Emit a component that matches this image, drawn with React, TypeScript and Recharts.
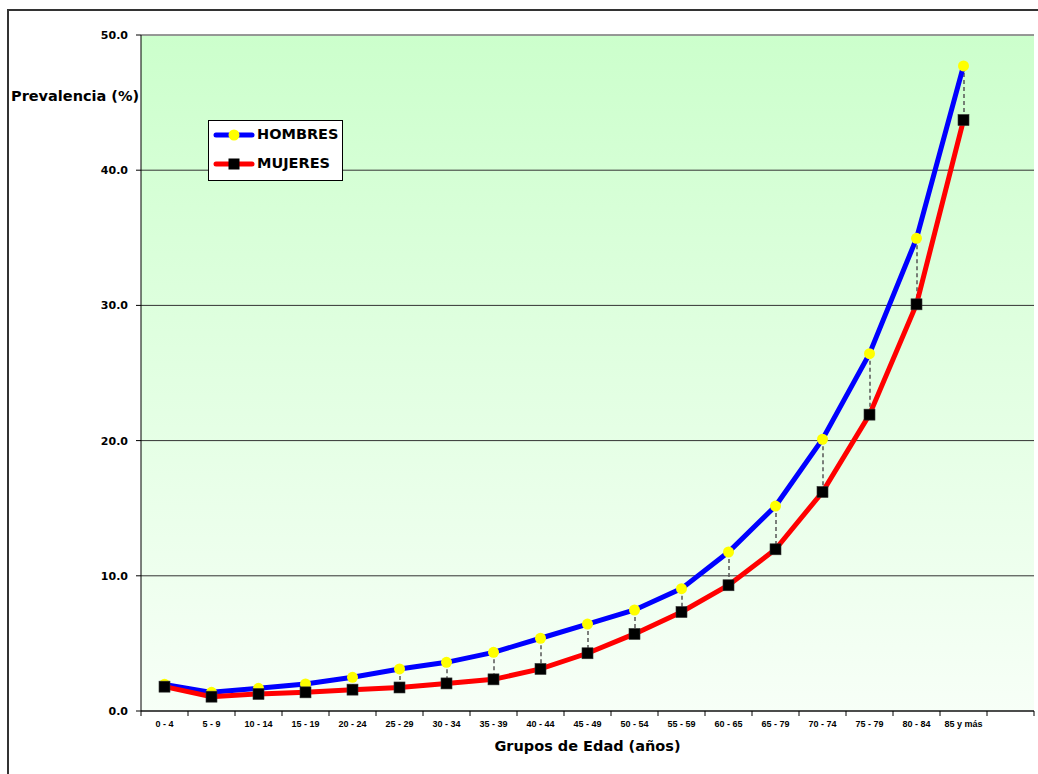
import React from 'react';
import { ComposedChart, Line, Bar, XAxis, YAxis, CartesianGrid, ReferenceLine, Label } from 'recharts';

const categories = ['0 - 4', '5 - 9', '10 - 14', '15 - 19', '20 - 24', '25 - 29', '30 - 34', '35 - 39', '40 - 44', '45 - 49', '50 - 54', '55 - 59', '60 - 65', '65 - 79', '70 - 74', '75 - 79', '80 - 84', '85 y más', ''];
const hombres: (number | null)[] = [1.97, 1.38, 1.68, 2.0, 2.49, 3.11, 3.6, 4.34, 5.38, 6.43, 7.47, 9.05, 11.76, 15.16, 20.1, 26.43, 34.96, 47.71, null];
const mujeres: (number | null)[] = [1.8, 1.06, 1.26, 1.38, 1.58, 1.74, 2.04, 2.34, 3.11, 4.27, 5.7, 7.32, 9.3, 11.96, 16.2, 21.92, 30.08, 43.71, null];
const yTicks = [0, 10, 20, 30, 40, 50];
const seriesNames = ['HOMBRES', 'MUJERES'];
const yTitle = 'Prevalencia (%)';
const xTitle = 'Grupos de Edad (años)';

const data = categories.map((c, i) => ({
  name: c,
  hombres: hombres[i],
  mujeres: mujeres[i],
  gap: hombres[i] != null && mujeres[i] != null ? [mujeres[i], hombres[i]] : null,
}));

const FONT = '"DejaVu Sans", Verdana, sans-serif';
const TICKFONT = '"Liberation Sans", Arial, sans-serif';

const DropLine = (props: any) => {
  const { x, y, width, height } = props;
  if (x == null || y == null || height == null || isNaN(height)) return <g />;
  const cx = x + width / 2;
  return <line x1={cx} x2={cx} y1={y} y2={y + height} stroke="#555" strokeWidth={1.5} strokeDasharray="4 3" />;
};

const SquareDot = (props: any) => {
  const { cx, cy, index } = props;
  if (cx == null || cy == null || isNaN(cy)) return <g key={'s' + index} />;
  return <rect key={'s' + index} x={cx - 5.5} y={cy - 5.5} width={11} height={11} fill="#000" stroke="#333" strokeWidth={0.6} />;
};

const XTick = (props: any) => {
  const { x, y, payload, index } = props;
  const off = payload && payload.offset ? payload.offset : 0;
  const last = index === categories.length - 1;
  return (
    <g>
      <line x1={x - off} x2={x - off} y1={y} y2={y + 5} stroke="#000" strokeWidth={1} />
      {last && <line x1={x + off} x2={x + off} y1={y} y2={y + 5} stroke="#000" strokeWidth={1} />}
      <text x={x} y={y + 16} textAnchor="middle" fontFamily={TICKFONT} fontSize={9} fontWeight="bold" fill="#000">
        {payload.value}
      </text>
    </g>
  );
};

export default function App() {
  return (
    <div style={{ position: 'absolute', left: 0, top: 0, width: 1038, height: 774, overflow: 'hidden', background: '#fff' }}>
      <div style={{ position: 'absolute', left: 7, top: 9, width: 1031, height: 765, borderTop: '2px solid #333', borderLeft: '2px solid #333', boxSizing: 'border-box' }} />
      <div style={{ position: 'absolute', left: 0, top: 0 }}>
        <ComposedChart width={1038} height={774} data={data} margin={{ top: 35, right: 4, left: 0, bottom: 33 }}>
          <defs>
            <linearGradient id="bgGrad" x1="0" y1="0" x2="0" y2="1">
              <stop offset="0%" stopColor="#CCFFCC" />
              <stop offset="100%" stopColor="#F7FFF7" />
            </linearGradient>
          </defs>
          <CartesianGrid vertical={false} stroke="#333" fill="url(#bgGrad)" fillOpacity={1} />
          <XAxis
            dataKey="name"
            interval={0}
            height={30}
            tickSize={0}
            tickMargin={0}
            tickLine={false}
            axisLine={{ stroke: '#000', strokeWidth: 1 }}
            tick={<XTick />}
          >
            <Label value={xTitle} position="bottom" offset={0} style={{ fontFamily: FONT, fontSize: 14.5, fontWeight: 'bold', fill: '#000' }} />
          </XAxis>
          <YAxis
            type="number"
            domain={[0, 50]}
            ticks={yTicks}
            width={141}
            tickSize={5}
            tickMargin={8}
            tickFormatter={(v: number) => v.toFixed(1)}
            tick={{ fontFamily: FONT, fontSize: 11, fontWeight: 'bold', fill: '#000' }}
            tickLine={{ stroke: '#000' }}
            axisLine={{ stroke: '#000', strokeWidth: 1 }}
          />
          <YAxis yAxisId="r" orientation="right" width={0} domain={[0, 50]} tick={false} tickLine={false} axisLine={{ stroke: '#999', strokeWidth: 1.5 }} />
          <ReferenceLine y={50} stroke="#999" strokeWidth={1.5} />
          <Bar dataKey="gap" barSize={4} shape={<DropLine />} isAnimationActive={false} />
          <Line
            dataKey="hombres"
            name={seriesNames[0]}
            stroke="#0000FF"
            strokeWidth={5}
            dot={{ r: 5.5, fill: '#FFFF00', stroke: 'none', strokeWidth: 0 }}
            activeDot={false}
            isAnimationActive={false}
          />
          <Line
            dataKey="mujeres"
            name={seriesNames[1]}
            stroke="#FF0000"
            strokeWidth={5}
            dot={<SquareDot />}
            activeDot={false}
            isAnimationActive={false}
          />
        </ComposedChart>
      </div>
      <div style={{ position: 'absolute', left: 11, top: 89, fontFamily: FONT, fontSize: 14.5, lineHeight: '14.5px', fontWeight: 'bold', color: '#000', whiteSpace: 'nowrap' }}>
        {yTitle}
      </div>
      <div style={{ position: 'absolute', left: 208, top: 120, width: 135, height: 61, border: '1px solid #000', background: '#fff', boxSizing: 'border-box' }}>
        {seriesNames.map((n, i) => (
          <div key={n} style={{ position: 'absolute', left: 4, top: 4 + i * 29, height: 20, width: 130 }}>
            <svg width={42} height={20} style={{ position: 'absolute', left: 0, top: 0 }}>
              <line x1={3} x2={39} y1={10} y2={10} stroke={i === 0 ? '#0000FF' : '#FF0000'} strokeWidth={5} strokeLinecap="round" />
              {i === 0 ? (
                <circle cx={21} cy={10} r={5.5} fill="#FFFF00" />
              ) : (
                <rect x={15.5} y={4.5} width={11} height={11} fill="#000" />
              )}
            </svg>
            <span style={{ position: 'absolute', left: 44, top: 2, fontFamily: FONT, fontSize: 14.5, lineHeight: '14.5px', fontWeight: 'bold', color: '#000', whiteSpace: 'nowrap' }}>
              {n}
            </span>
          </div>
        ))}
      </div>
    </div>
  );
}
